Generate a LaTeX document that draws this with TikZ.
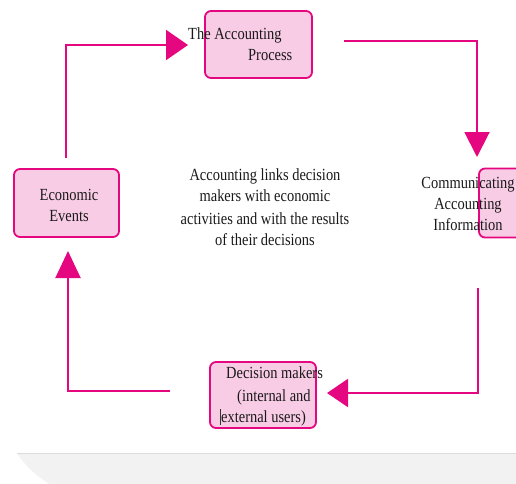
\documentclass[tikz,border=0pt]{standalone}
\usepackage{fontspec}
\setmainfont{Liberation Serif}[FakeStretch=0.85]
\usetikzlibrary{arrows.meta}
\definecolor{mag}{HTML}{E5077F}
\definecolor{pinkfill}{HTML}{F9CCE6}
\definecolor{greyfill}{HTML}{F2F2F2}
\definecolor{greyline}{HTML}{DCDCDC}
\tikzset{
  box/.style={draw=mag, fill=pinkfill, line width=1.8pt, rounded corners=6pt, inner sep=0pt},
  txt/.style={font=\fontsize{17}{21}\selectfont, inner sep=0pt, text=black!90},
  conn/.style={draw=mag, line width=2pt},
}
\begin{document}
\begin{tikzpicture}[x=1pt,y=-1pt]
\useasboundingbox (0,0) rectangle (516,483);
\clip (0,0) rectangle (516,483);
% bottom grey band
\fill[greyfill] (17,453) -- (516,453) -- (516,490) -- (60,490) .. controls (40,480) and (25,466) .. (17,453) -- cycle;
\draw[greyline, line width=1pt] (17,453) -- (516,453);
% boxes
\node[box, minimum width=107pt, minimum height=67pt] (proc) at (258.5,44.5) {};
\node[box, minimum width=60pt, minimum height=69pt] (comm) at (509,203) {};
\node[box, minimum width=105pt, minimum height=68pt] (econ) at (66.5,203) {};
\node[box, minimum width=106pt, minimum height=66pt] (dec) at (263,395) {};
% texts
\node[txt, anchor=base west] (proct1) at (188,39) {The Accounting};
\node[txt, anchor=base west] (proct2) at (248,60) {Process};
\node[txt, align=center] (commt) at (468,204) {Communicating\\Accounting\\Information};
\node[txt, align=center] (econt) at (69,205) {Economic\\Events};
\node[txt, anchor=west, align=left] (dect) at (221,396) {\hspace*{5pt}Decision makers\\[2pt]\hspace*{16pt}(internal and\\[0pt]external users)};
\node[txt, align=center] (centre) at (265,207) {Accounting links decision\\makers with economic\\[2pt]activities and with the results\\of their decisions};
% cursor mark
\draw[black!80, line width=0.8pt] (220.8,409) -- (220.8,425);
% connectors
\coordinate (a1s) at (66,158);
\coordinate (a1t) at (188,45);
\draw[conn, -{Triangle[length=22pt,width=30pt]}] (a1s) |- (a1t);
\coordinate (a2s) at (344,41);
\coordinate (a2t) at (477,157);
\draw[conn, -{Triangle[length=25pt,width=25pt]}] (a2s) -| (a2t);
\coordinate (a3s) at (478,288);
\coordinate (a3t) at (327,393);
\draw[conn, -{Triangle[length=21pt,width=28pt]}] (a3s) |- (a3t);
\coordinate (a4s) at (170,391);
\coordinate (a4t) at (68,251);
\draw[conn, -{Triangle[length=27pt,width=25pt]}] (a4s) -| (a4t);
\end{tikzpicture}
\end{document}
